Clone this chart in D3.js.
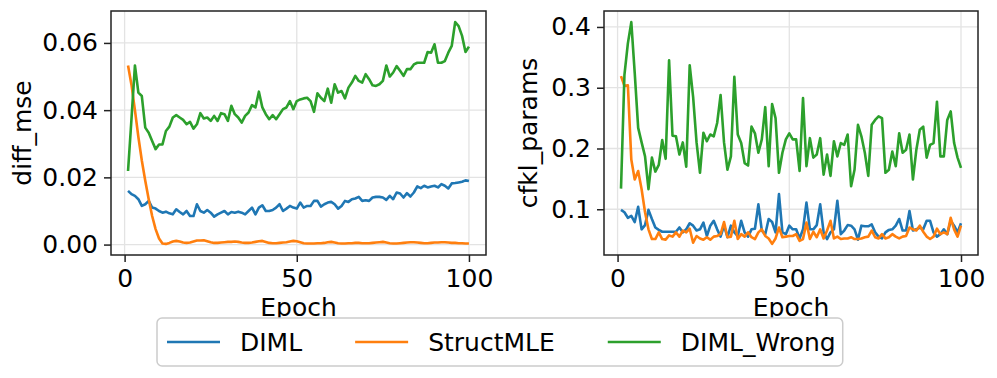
<!DOCTYPE html>
<html>
<head>
<meta charset="utf-8">
<script src="https://cdn.jsdelivr.net/npm/d3@7"></script>
<style>
  body { margin: 0; background: #fff; }
  text { font-family: "DejaVu Sans", sans-serif; fill: #000; }
</style>
</head>
<body>
<script>
// epochs 1..100
const epochs = d3.range(1, 101);

const seriesNames = ["DIML", "StructMLE", "DIML_Wrong"];
const seriesColors = ["#1f77b4", "#ff7f0e", "#2ca02c"];

// left panel: diff_mse
const dimlMse = [
  0.0160,0.0150,0.0145,0.0135,0.0115,0.0120,0.0130,0.0110,0.0107,0.0100,
  0.0095,0.0098,0.0093,0.0090,0.0105,0.0097,0.0090,0.0100,0.0085,0.0085,
  0.0120,0.0100,0.0095,0.0103,0.0095,0.0083,0.0090,0.0095,0.0100,0.0090,
  0.0097,0.0095,0.0098,0.0095,0.0090,0.0100,0.0110,0.0090,0.0110,0.0117,
  0.0100,0.0100,0.0103,0.0110,0.0120,0.0100,0.0107,0.0115,0.0110,0.0107,
  0.0125,0.0110,0.0115,0.0115,0.0130,0.0130,0.0113,0.0120,0.0125,0.0127,
  0.0120,0.0107,0.0115,0.0130,0.0127,0.0135,0.0137,0.0142,0.0130,0.0132,
  0.0130,0.0140,0.0142,0.0142,0.0140,0.0133,0.0145,0.0135,0.0155,0.0152,
  0.0140,0.0153,0.0143,0.0155,0.0173,0.0168,0.0175,0.0170,0.0173,0.0175,
  0.0170,0.0180,0.0175,0.0167,0.0182,0.0183,0.0185,0.0187,0.0191,0.0189
];
const structMse = [
  0.0533,0.0475,0.0400,0.0320,0.0250,0.0190,0.0135,0.0085,0.0046,0.0018,
  0.0003,0.0002,0.0005,0.0009,0.0011,0.0009,0.0006,0.0005,0.0006,0.0009,
  0.0012,0.0012,0.0013,0.0010,0.0007,0.0005,0.0005,0.0006,0.0007,0.0008,
  0.0008,0.0009,0.0008,0.0006,0.0005,0.0005,0.0006,0.0008,0.0010,0.0011,
  0.0008,0.0005,0.0004,0.0004,0.0005,0.0006,0.0007,0.0009,0.0011,0.0010,
  0.0007,0.0004,0.0003,0.0003,0.0003,0.0004,0.0004,0.0005,0.0007,0.0008,
  0.0006,0.0004,0.0003,0.0003,0.0004,0.0004,0.0005,0.0005,0.0004,0.0004,
  0.0004,0.0005,0.0006,0.0007,0.0008,0.0006,0.0004,0.0003,0.0003,0.0004,
  0.0005,0.0006,0.0007,0.0007,0.0006,0.0005,0.0004,0.0004,0.0005,0.0006,
  0.0006,0.0007,0.0007,0.0006,0.0005,0.0005,0.0004,0.0004,0.0003,0.0003
];
const wrongMse = [
  0.0219,0.0374,0.0533,0.0452,0.0442,0.0348,0.0333,0.0308,0.0284,0.0298,
  0.0298,0.0338,0.0351,0.0378,0.0385,0.0378,0.0371,0.0358,0.0365,0.0345,
  0.0358,0.0391,0.0375,0.0378,0.0368,0.0383,0.0368,0.0391,0.0388,0.0368,
  0.0413,0.0388,0.0378,0.0363,0.0383,0.0393,0.0415,0.0408,0.0455,0.0408,
  0.0388,0.0373,0.0385,0.0373,0.0388,0.0403,0.0408,0.0427,0.0403,0.0427,
  0.0432,0.0435,0.0437,0.0427,0.0395,0.0450,0.0437,0.0427,0.0464,0.0422,
  0.0477,0.0452,0.0457,0.0435,0.0467,0.0482,0.0502,0.0487,0.0482,0.0507,
  0.0492,0.0474,0.0472,0.0477,0.0487,0.0533,0.0500,0.0512,0.0531,0.0517,
  0.0502,0.0522,0.0522,0.0536,0.0541,0.0541,0.0541,0.0573,0.0571,0.0596,
  0.0541,0.0541,0.0546,0.0571,0.0591,0.0662,0.0650,0.0621,0.0573,0.0589
];

// right panel: cfkl_params
const dimlCfkl = [
  0.099,0.095,0.086,0.089,0.079,0.104,0.067,0.074,0.099,0.084,
  0.070,0.066,0.063,0.063,0.063,0.063,0.063,0.070,0.062,0.067,
  0.077,0.073,0.065,0.067,0.078,0.056,0.073,0.081,0.067,0.055,
  0.073,0.054,0.073,0.062,0.056,0.081,0.062,0.055,0.067,0.068,
  0.108,0.065,0.059,0.084,0.079,0.062,0.125,0.062,0.059,0.073,
  0.067,0.067,0.052,0.067,0.111,0.067,0.067,0.074,0.108,0.062,
  0.051,0.062,0.067,0.114,0.059,0.065,0.074,0.073,0.067,0.050,
  0.073,0.072,0.072,0.075,0.062,0.055,0.052,0.062,0.066,0.067,
  0.073,0.084,0.065,0.065,0.097,0.065,0.067,0.070,0.067,0.081,
  0.081,0.062,0.055,0.059,0.067,0.059,0.081,0.073,0.062,0.077
];
const structCfkl = [
  0.319,0.303,0.304,0.182,0.149,0.163,0.133,0.095,0.067,0.051,
  0.051,0.062,0.051,0.050,0.057,0.055,0.062,0.055,0.065,0.062,
  0.068,0.045,0.056,0.052,0.050,0.054,0.050,0.055,0.056,0.059,
  0.079,0.054,0.055,0.081,0.051,0.059,0.055,0.062,0.054,0.051,
  0.062,0.067,0.056,0.052,0.043,0.052,0.070,0.054,0.055,0.056,
  0.056,0.059,0.048,0.051,0.078,0.051,0.063,0.054,0.067,0.052,
  0.065,0.081,0.052,0.055,0.051,0.052,0.052,0.054,0.051,0.051,
  0.052,0.054,0.055,0.065,0.054,0.052,0.059,0.052,0.054,0.059,
  0.055,0.052,0.055,0.056,0.070,0.067,0.065,0.073,0.063,0.055,
  0.051,0.055,0.068,0.059,0.062,0.059,0.086,0.067,0.055,0.073
];
const wrongCfkl = [
  0.134,0.321,0.373,0.408,0.324,0.234,0.210,0.187,0.133,0.185,
  0.162,0.173,0.214,0.183,0.345,0.221,0.220,0.190,0.210,0.170,
  0.337,0.285,0.210,0.160,0.226,0.212,0.223,0.220,0.242,0.288,
  0.210,0.165,0.187,0.318,0.223,0.209,0.176,0.172,0.236,0.225,
  0.193,0.215,0.268,0.171,0.273,0.250,0.160,0.193,0.215,0.225,
  0.215,0.215,0.163,0.283,0.171,0.217,0.185,0.190,0.217,0.157,
  0.190,0.155,0.212,0.187,0.209,0.206,0.223,0.138,0.165,0.239,
  0.220,0.193,0.155,0.239,0.247,0.253,0.250,0.160,0.165,0.195,
  0.171,0.225,0.193,0.198,0.223,0.149,0.198,0.231,0.236,0.185,
  0.206,0.209,0.277,0.187,0.187,0.247,0.261,0.209,0.185,0.168
];

const xTicks = [0, 50, 100];
const mseTicks = [0.00, 0.02, 0.04, 0.06];
const cfklTicks = [0.1, 0.2, 0.3, 0.4];

const W = 997, H = 378;
const fs = 25;

const svg = d3.select("body").append("svg")
  .attr("width", W).attr("height", H);
svg.append("rect").attr("width", W).attr("height", H).attr("fill", "#fff");

function panel(left, right, series, yTicks, yFmt, yLabel, yLabelX) {
  const top = 11, bottom = 255;

  // matplotlib style 5% margins
  const xScale = d3.scaleLinear().domain([1 - 4.95, 100 + 4.95]).range([left, right]);
  const all = series.flat();
  const lo = d3.min(all), hi = d3.max(all), pad = (hi - lo) * 0.05;
  const yScale = d3.scaleLinear().domain([lo - pad, hi + pad]).range([bottom, top]);

  const g = svg.append("g");

  // grid
  g.selectAll("line.gx").data(xTicks).enter().append("line")
    .attr("x1", d => xScale(d)).attr("x2", d => xScale(d))
    .attr("y1", top).attr("y2", bottom)
    .style("stroke", "#e3e3e3").style("stroke-width", "1.3px");
  g.selectAll("line.gy").data(yTicks).enter().append("line")
    .attr("x1", left).attr("x2", right)
    .attr("y1", d => yScale(d)).attr("y2", d => yScale(d))
    .style("stroke", "#e3e3e3").style("stroke-width", "1.3px");

  // lines
  const line = d3.line().x((d, i) => xScale(epochs[i])).y(d => yScale(d));
  series.forEach((s, k) => {
    g.append("path").datum(s)
      .attr("d", line)
      .style("fill", "none")
      .style("stroke", seriesColors[k])
      .style("stroke-width", "2.6px")
      .style("stroke-linejoin", "round");
  });

  // axes
  const xAxis = d3.axisBottom(xScale).tickValues(xTicks).tickSize(7).tickPadding(6)
    .tickFormat(d3.format("d"));
  const yAxis = d3.axisLeft(yScale).tickValues(yTicks).tickSize(7).tickPadding(6)
    .tickFormat(yFmt);

  const xa = g.append("g").attr("transform", "translate(0," + bottom + ")").call(xAxis);
  const ya = g.append("g").attr("transform", "translate(" + left + ",0)").call(yAxis);
  [xa, ya].forEach(a => {
    a.select(".domain").remove();
    a.selectAll(".tick line").style("stroke", "#222").style("stroke-width", "1.5px");
    a.selectAll(".tick text").style("font-size", fs + "px")
      .style("font-family", "DejaVu Sans").style("fill", "#000");
  });
  xa.selectAll(".tick text").attr("dy", "0.76em");

  // frame
  g.append("rect")
    .attr("x", left).attr("y", top)
    .attr("width", right - left).attr("height", bottom - top)
    .style("fill", "none").style("stroke", "#222").style("stroke-width", "1.5px");

  g.append("text")
    .attr("x", (left + right) / 2).attr("y", 316)
    .attr("text-anchor", "middle")
    .style("font-size", fs + "px")
    .text("Epoch");

  g.append("text")
    .attr("transform", "translate(" + yLabelX + "," + (top + bottom) / 2 + ") rotate(-90)")
    .attr("text-anchor", "middle")
    .style("font-size", fs + "px")
    .text(yLabel);
}

panel(111, 486, [dimlMse, structMse, wrongMse], mseTicks, d3.format(".2f"), "diff_mse", 31);
panel(604, 978, [dimlCfkl, structCfkl, wrongCfkl], cfklTicks, d3.format(".1f"), "cfkl_params", 537);

// legend
const leg = svg.append("g");
const box = leg.append("rect")
  .attr("y", 318).attr("height", 48).attr("rx", 5)
  .style("fill", "#fff").style("stroke", "#cccccc").style("stroke-width", "1.5px");

let cx = 167;
seriesNames.forEach((name, k) => {
  leg.append("line")
    .attr("x1", cx).attr("x2", cx + 53)
    .attr("y1", 342).attr("y2", 342)
    .style("stroke", seriesColors[k]).style("stroke-width", "2.6px");
  const t = leg.append("text")
    .attr("x", cx + 73).attr("y", 351)
    .style("font-size", fs + "px")
    .text(name);
  cx = cx + 73 + t.node().getComputedTextLength() + 53;
});
box.attr("x", 157).attr("width", cx - 53 + 7 - 157);
</script>
</body>
</html>
